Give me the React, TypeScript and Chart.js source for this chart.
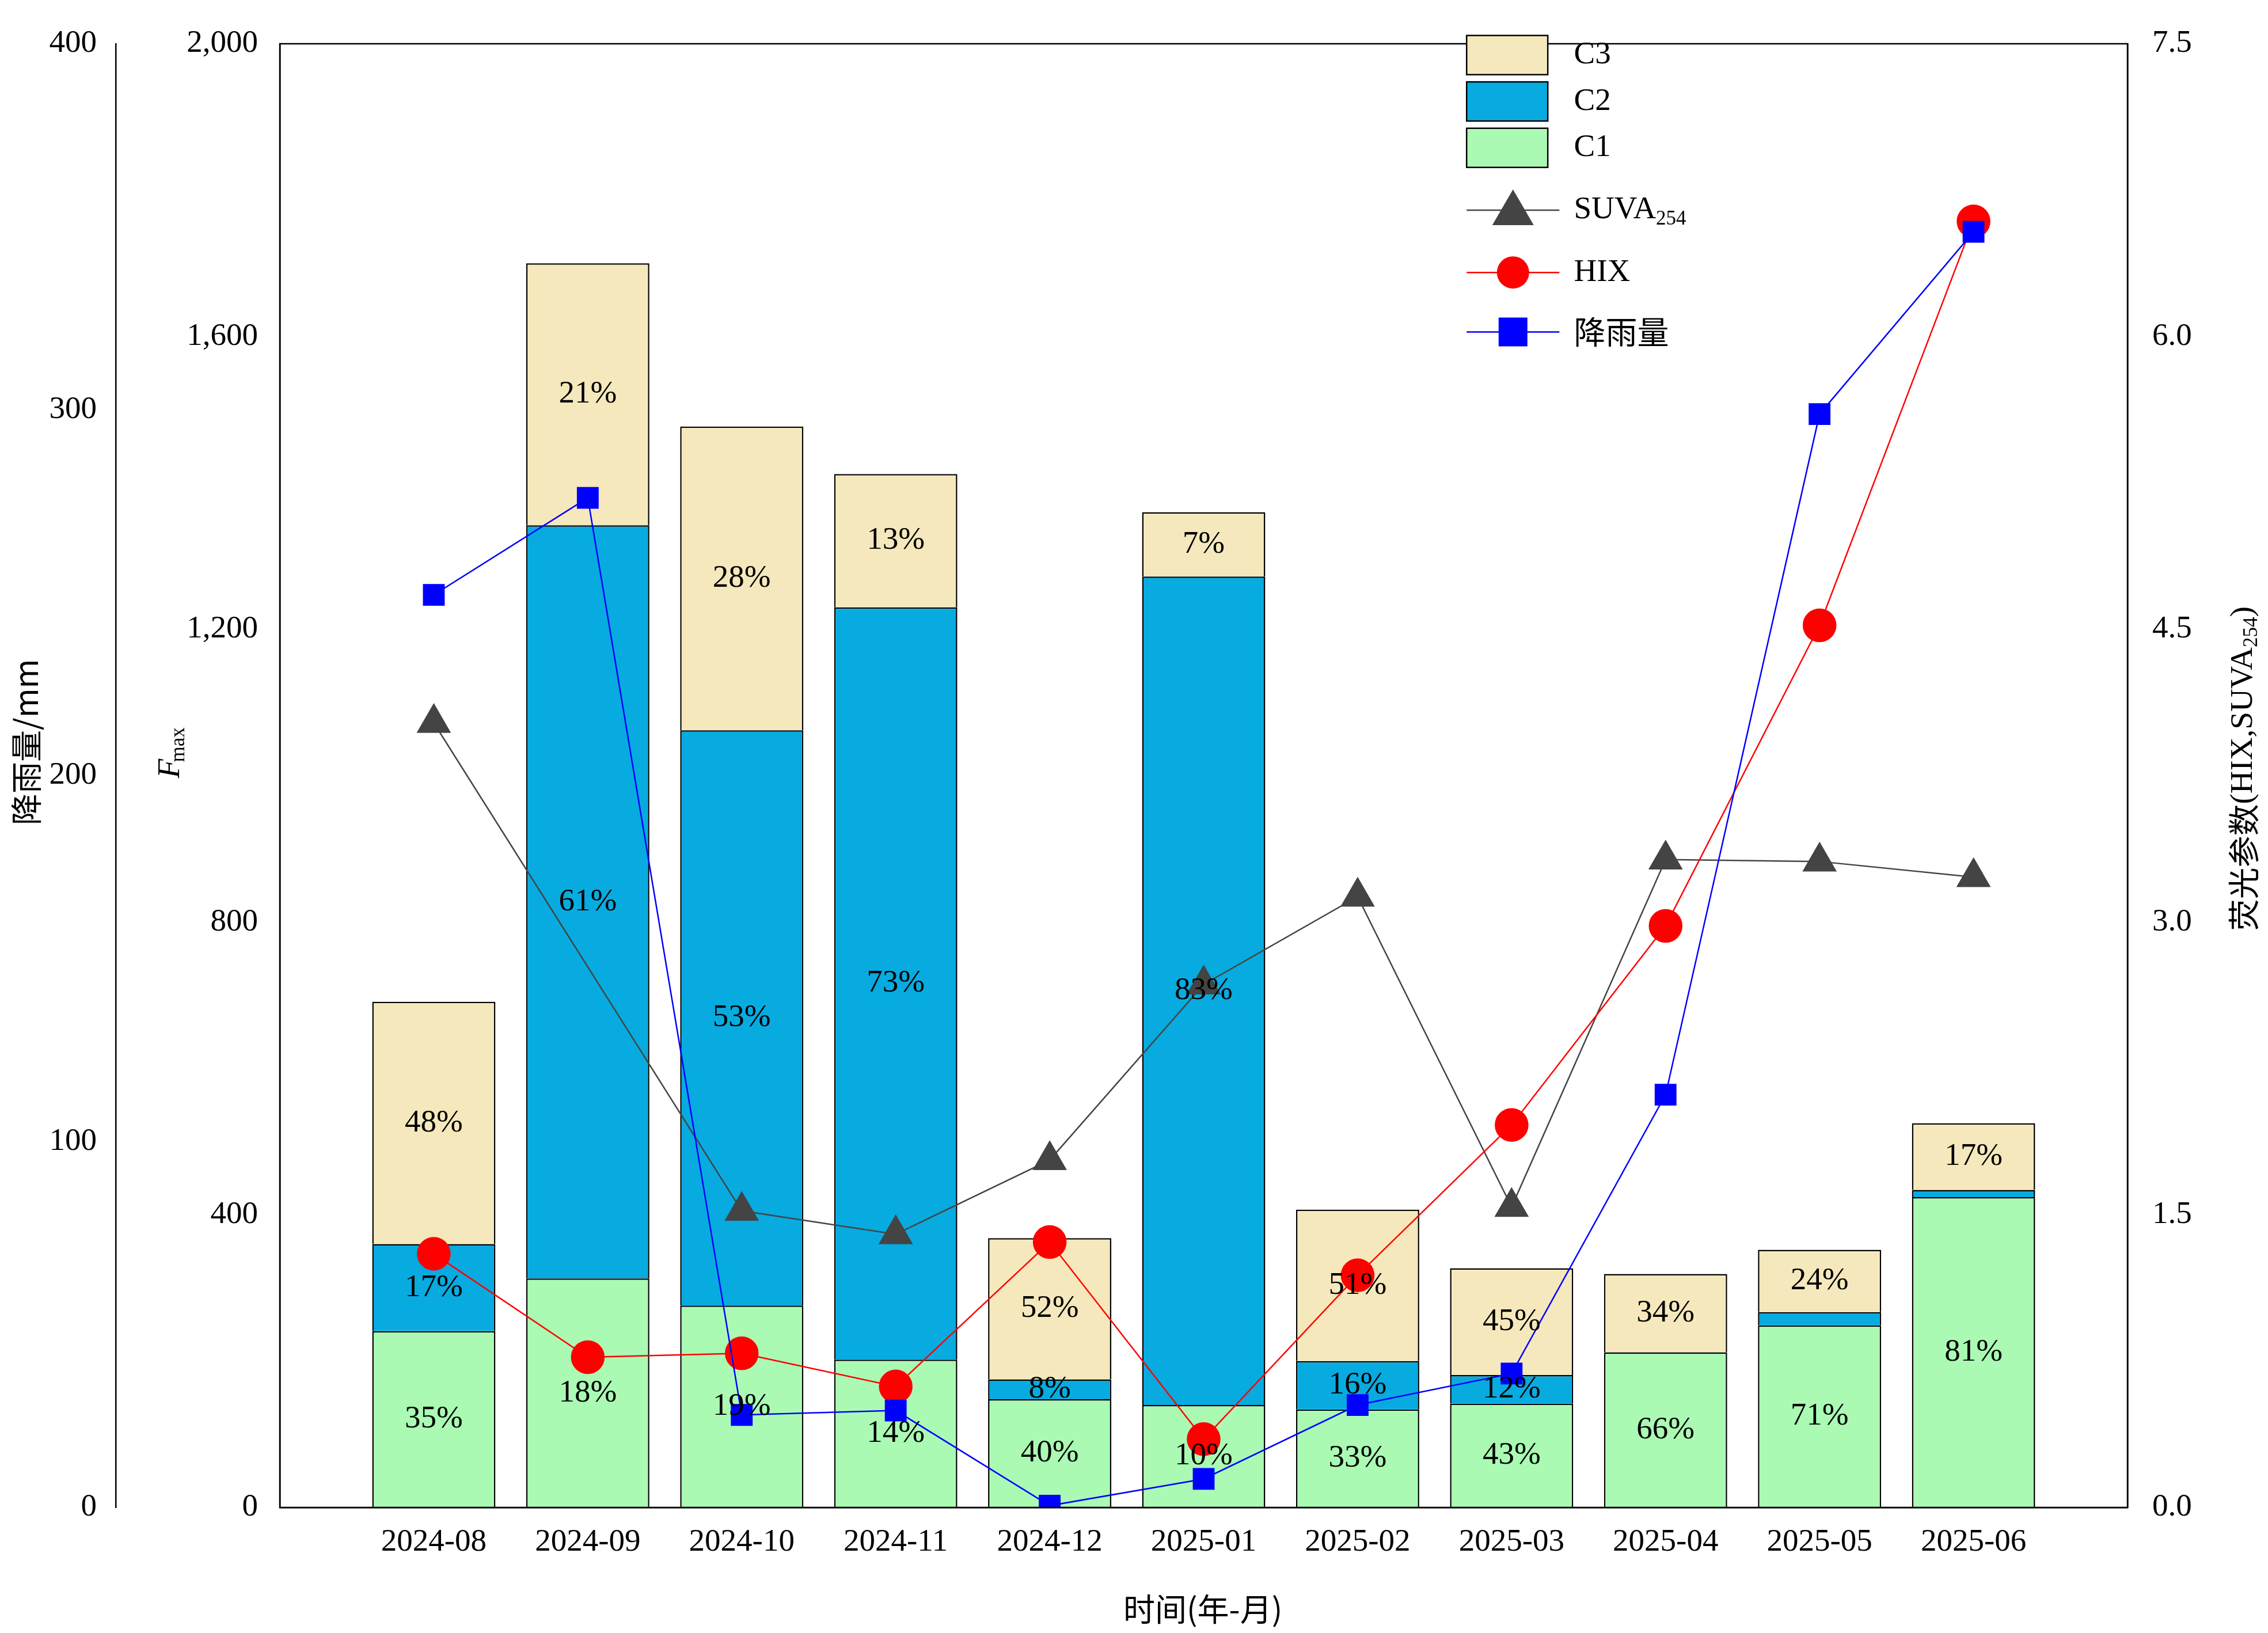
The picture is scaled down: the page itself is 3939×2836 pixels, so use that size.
import React, { useEffect, useRef } from "react";
import { Chart, registerables } from "chart.js";
Chart.register(...registerables);

const months = ["2024-08","2024-09","2024-10","2024-11","2024-12","2025-01","2025-02","2025-03","2025-04","2025-05","2025-06"];
const c1 = [241, 313, 276, 202, 148, 140, 134, 142, 212, 249, 424];
const c2 = [119, 1029, 786, 1028, 27, 1132, 66, 39, 0, 18, 10];
const c3 = [331, 358, 415, 182, 193, 88, 207, 146, 107, 85, 91];
const c1Pct = ["35%","18%","19%","14%","40%","10%","33%","43%","66%","71%","81%"];
const c2Pct = ["17%","61%","53%","73%","8%","83%","16%","12%","","",""];
const c3Pct = ["48%","21%","28%","13%","52%","7%","51%","45%","34%","24%","17%"];
const rain = [249.4, 275.9, 25.3, 26.5, 0.5, 7.8, 28, 36.6, 112.8, 298.8, 348.6];
const suva = [4.02, null, 1.52, 1.40, 1.78, 2.68, 3.13, 1.54, 3.32, 3.31, 3.23];
const hix = [1.30, 0.77, 0.79, 0.62, 1.36, 0.35, 1.19, 1.96, 2.98, 4.52, 6.59];

const S = 2.517;
const FONT = "'Liberation Serif', 'Times New Roman', serif";
const CJK = "'Noto Sans CJK SC', sans-serif";
const pad = (a: any[]) => [null, ...a, null];
const C1C = "#AAFAB4", C2C = "#07ABE0", C3C = "#F5E8BC";

export default function App() {
  const ref = useRef<HTMLCanvasElement>(null);
  useEffect(() => {
    const pctPlugin = {
      id: "pct",
      afterDatasetsDraw(chart: any) {
        const ctx = chart.ctx;
        ctx.save();
        ctx.font = `55px ${FONT}`;
        ctx.fillStyle = "#000";
        ctx.textAlign = "center";
        ctx.textBaseline = "middle";
        [c1Pct, c2Pct, c3Pct].forEach((arr, di) => {
          const meta = chart.getDatasetMeta(di);
          arr.forEach((t, i) => {
            const el = meta.data[i + 1];
            if (!t || !el) return;
            ctx.fillText(t, el.x, (el.y + el.base) / 2);
          });
        });
        ctx.restore();
      },
      afterDraw(chart: any) {
        const ctx = chart.ctx;
        const a = chart.chartArea;
        ctx.save();
        ctx.strokeStyle = "#000";
        ctx.lineWidth = 2.5;
        ctx.strokeRect(a.left, a.top, a.right - a.left, a.bottom - a.top);
        const X = (v: number) => v * S - 8;
        // axis titles
        ctx.fillStyle = "#000";
        ctx.textBaseline = "middle";
        ctx.textAlign = "center";
        ctx.font = `55px ${CJK}`;
        ctx.fillText("时间(年-月)", X(830), X(1110));
        ctx.save();
        ctx.translate(X(18), X(512));
        ctx.rotate(-Math.PI / 2);
        ctx.fillText("降雨量/mm", 0, 0);
        ctx.restore();
        ctx.save();
        ctx.translate(X(118), X(525));
        ctx.rotate(-Math.PI / 2);
        ctx.textAlign = "left";
        ctx.font = `italic 55px ${FONT}`;
        ctx.fillText("F", -30, 0);
        ctx.font = `35px ${FONT}`;
        ctx.fillText("max", -2, 14);
        ctx.restore();
        ctx.save();
        ctx.translate(X(1548), X(530));
        ctx.rotate(-Math.PI / 2);
        ctx.textAlign = "left";
        ctx.font = `55px ${CJK}`;
        const t1 = "荧光参数";
        const w1 = ctx.measureText(t1).width;
        ctx.font = `55px ${FONT}`;
        const t2 = "(HIX,SUVA";
        const w2 = ctx.measureText(t2).width;
        ctx.font = `35px ${FONT}`;
        const w3 = ctx.measureText("254").width;
        const w4 = 20;
        let x0 = -(w1 + w2 + w3 + w4) / 2;
        ctx.font = `55px ${CJK}`;
        ctx.fillText(t1, x0, 0); x0 += w1;
        ctx.font = `55px ${FONT}`;
        ctx.fillText(t2, x0, 0); x0 += w2;
        ctx.font = `35px ${FONT}`;
        ctx.fillText("254", x0, 14); x0 += w3;
        ctx.font = `55px ${FONT}`;
        ctx.fillText(")", x0, 0);
        ctx.restore();
        // legend
        ctx.lineWidth = 2.5;
        const boxes: [string, string, number][] = [["C3", C3C, 38], ["C2", C2C, 70], ["C1", C1C, 102]];
        ctx.textAlign = "left";
        boxes.forEach(([t, c, y]) => {
          ctx.fillStyle = c;
          ctx.fillRect(X(1012), X(y) - 34, 56 * S, 68);
          ctx.strokeRect(X(1012), X(y) - 34, 56 * S, 68);
          ctx.fillStyle = "#000";
          ctx.font = `55px ${FONT}`;
          ctx.fillText(t, X(1086), X(y));
        });
        const lines: [string, string, number, string][] = [["SUVA", "#444", 145, "tri"], ["HIX", "#ff0000", 188, "circ"], ["降雨量", "#0000ff", 229, "rect"]];
        lines.forEach(([t, c, y, m]) => {
          const yy = X(y);
          ctx.strokeStyle = c === "#444" ? "#444" : c;
          ctx.beginPath(); ctx.moveTo(X(1012), yy); ctx.lineTo(X(1076), yy); ctx.stroke();
          ctx.fillStyle = c;
          const cx = X(1044);
          ctx.beginPath();
          if (m === "tri") { ctx.moveTo(cx, yy - 36); ctx.lineTo(cx + 36, yy + 26); ctx.lineTo(cx - 36, yy + 26); ctx.closePath(); }
          else if (m === "circ") ctx.arc(cx, yy, 28, 0, Math.PI * 2);
          else ctx.rect(cx - 25, yy - 25, 50, 50);
          ctx.fill();
          ctx.fillStyle = "#000";
          if (t === "SUVA") {
            ctx.font = `55px ${FONT}`;
            ctx.fillText("SUVA", X(1086), yy);
            const w = ctx.measureText("SUVA").width;
            ctx.font = `35px ${FONT}`;
            ctx.fillText("254", X(1086) + w, yy + 16);
          } else {
            ctx.font = t === "HIX" ? `55px ${FONT}` : `55px ${CJK}`;
            ctx.fillText(t, X(1086), yy);
          }
        });
        ctx.restore();
      },
    };
    const tickFont = { family: FONT, size: 55 };
    const chart = new Chart(ref.current!, {
      type: "bar",
      data: {
        labels: ["", ...months, ""],
        datasets: [
          { type: "bar", label: "C1", data: pad(c1), backgroundColor: C1C, borderColor: "#000", borderWidth: 2.5, yAxisID: "yF", stack: "s", order: 5 },
          { type: "bar", label: "C2", data: pad(c2), backgroundColor: C2C, borderColor: "#000", borderWidth: 2.5, yAxisID: "yF", stack: "s", order: 5 },
          { type: "bar", label: "C3", data: pad(c3), backgroundColor: C3C, borderColor: "#000", borderWidth: 2.5, yAxisID: "yF", stack: "s", order: 5 },
          { type: "line", label: "SUVA", data: pad(suva), borderColor: "#444", backgroundColor: "#444", borderWidth: 2.5, pointStyle: "triangle", pointRadius: 32, yAxisID: "yR", spanGaps: true, order: 3 },
          { type: "line", label: "HIX", data: pad(hix), borderColor: "#ff0000", backgroundColor: "#ff0000", borderWidth: 2.5, pointStyle: "circle", pointRadius: 28, yAxisID: "yR", order: 2 },
          { type: "line", label: "rain", data: pad(rain), borderColor: "#0000ff", backgroundColor: "#0000ff", borderWidth: 2.5, pointStyle: "rect", pointRadius: 25, yAxisID: "yRain", order: 1 },
        ] as any,
      },
      options: {
        animation: false,
        responsive: false,
        layout: { padding: { top: 22, right: 0, left: 0, bottom: 0 } },
        plugins: { legend: { display: false }, tooltip: { enabled: false } },
        datasets: { bar: { categoryPercentage: 1, barPercentage: 0.8 } },
        scales: {
          x: {
            offset: false,
            grid: { display: false },
            border: { color: "#000", width: 2.5 },
            ticks: { font: tickFont, color: "#000", autoSkip: false, maxRotation: 0, padding: 20 },
            afterFit: (s: any) => { s.height = 210; },
          },
          yRain: {
            position: "left", weight: 1, min: 0, max: 400,
            grid: { display: false },
            border: { color: "#000", width: 2.5 },
            ticks: { stepSize: 100, font: tickFont, color: "#000", padding: 25 },
            afterFit: (s: any) => { s.width = 193; },
          },
          yF: {
            position: "left", weight: 0, min: 0, max: 2000, stacked: true,
            grid: { display: false },
            border: { color: "#000", width: 2.5 },
            ticks: { stepSize: 400, font: tickFont, color: "#000", padding: 30 },
            afterFit: (s: any) => { s.width = 285; },
          },
          yR: {
            position: "right", min: 0, max: 7.5,
            grid: { display: false },
            border: { color: "#000", width: 2.5 },
            ticks: { stepSize: 1.5, font: tickFont, color: "#000", padding: 35, callback: (v: any) => Number(v).toFixed(1) },
            afterFit: (s: any) => { s.width = 236; },
          },
        } as any,
      },
      plugins: [pctPlugin],
    });
    return () => chart.destroy();
  }, []);
  return (
    <div style={{ width: 3923, height: 2820 }}>
      <canvas ref={ref} width={3923} height={2820} style={{ width: 3923, height: 2820 }} />
    </div>
  );
}
